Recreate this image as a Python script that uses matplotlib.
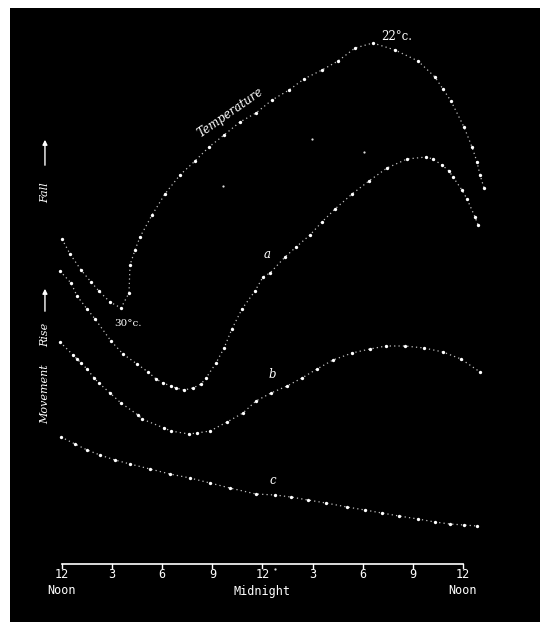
import matplotlib
matplotlib.use("Agg")
import matplotlib.pyplot as plt

# ---- data (x: hours after noon, y: arbitrary height units above the time axis) ----
temp_x = [0.0, 0.48, 1.14, 1.74, 2.21, 2.87, 3.53, 4.01, 4.07, 4.37, 4.67, 5.39, 6.16, 7.06,
          7.96, 8.80, 9.70, 10.65, 11.61, 12.57, 13.59, 14.48, 15.56, 16.52, 17.54, 18.61,
          19.93, 21.31, 22.32, 22.80, 23.28, 24.06, 24.54, 24.84, 25.02, 25.26]
temp_y = [325, 310, 294, 282, 273, 262, 256, 271, 299, 314, 327, 349, 370, 389,
          403, 417, 429, 442, 451, 464, 474, 485, 494, 503, 516, 521,
          514, 503, 487, 475, 463, 437, 417, 402, 389, 376]

a_x = [-0.12, 0.54, 0.90, 1.50, 1.98, 2.93, 3.65, 4.49, 5.15, 5.63, 6.04, 6.52, 6.82, 7.30,
       7.84, 8.32, 8.62, 9.22, 9.70, 10.17, 10.77, 11.55, 12.03, 12.45, 13.35, 14.01, 14.84,
       15.56, 16.34, 17.36, 18.37, 19.45, 20.65, 21.79, 22.20, 22.74, 23.16, 23.40, 23.94,
       24.24, 24.72, 24.90]
a_y = [293, 281, 268, 255, 245, 223, 210, 200, 192, 185, 181, 178, 176, 174,
       176, 180, 186, 201, 216, 235, 255, 273, 287, 291, 307, 317, 329,
       342, 355, 370, 383, 396, 405, 407, 405, 399, 393, 387, 374,
       365, 347, 339]

b_x = [-0.12, 0.66, 0.90, 1.14, 1.50, 1.92, 2.21, 2.87, 3.53, 4.55, 4.79, 6.10, 6.52, 7.60,
       8.08, 8.86, 9.88, 10.83, 11.61, 12.51, 13.47, 14.36, 15.26, 16.22, 17.36, 18.43,
       19.39, 20.53, 21.67, 22.80, 23.88, 25.02]
b_y = [222, 209, 205, 201, 195, 186, 181, 171, 161, 149, 145, 136, 133, 130,
       131, 133, 142, 151, 163, 171, 178, 186, 195, 204, 211, 215,
       218, 218, 216, 212, 205, 192]

c_x = [-0.06, 0.78, 1.50, 2.27, 3.17, 4.07, 5.27, 6.46, 7.66, 8.86, 10.05, 11.61, 12.75,
       13.71, 14.72, 15.80, 17.06, 18.13, 19.15, 20.17, 21.31, 22.32, 23.22, 24.06, 24.84]
c_y = [127, 120, 114, 109, 104, 100, 95, 90, 86, 81, 76, 70, 69,
       67, 64, 61, 57, 54, 51, 48, 45, 42, 40, 39, 38]

tick_hours = [0, 3, 6, 9, 12, 15, 18, 21, 24]
tick_labels = ["12", "3", "6", "9", "12", "3", "6", "9", "12"]
period_labels = [(0, "Noon"), (12, "Midnight"), (24, "Noon")]

# stray specks of the old print
speck_x = [9.64, 14.96, 18.07, 12.75]
speck_y = [378, 425, 412, -5]

# ---- figure ----
W, H = 550, 632
fig = plt.figure(figsize=(W / 100, H / 100), dpi=100, facecolor="white")
L, R, T, B = 10, 540, 8, 622
ax = fig.add_axes([L / W, (H - B) / H, (R - L) / W, (B - T) / H])
ax.set_facecolor("black")
pph = 401 / 24.0          # pixels per hour
x0, y0 = 62, 564          # pixel of noon / axis line
ax.set_xlim((L - x0) / pph, (R - x0) / pph)
ax.set_ylim(y0 - B, y0 - T)
ax.set_xticks([]); ax.set_yticks([])
for s in ax.spines.values():
    s.set_visible(False)

for xs, ys in [(temp_x, temp_y), (a_x, a_y), (b_x, b_y), (c_x, c_y)]:
    ax.plot(xs, ys, linestyle=(0, (1, 2.5)), color="white", lw=0.9, alpha=0.75)
    ax.plot(xs, ys, linestyle="none", marker="o", ms=2.4, mfc="white", mec="none")

ax.plot(speck_x, speck_y, linestyle="none", marker="o", ms=1.6, mfc="#dddddd", mec="none")

# time axis
ax.plot([0, 24], [0, 0], color="white", lw=1.2)
for h, lab in zip(tick_hours, tick_labels):
    ax.plot([h, h], [0, -3.5], color="white", lw=1.0)
    ax.text(h, -11, lab, color="white", ha="center", va="center",
            family="DejaVu Sans Mono", fontsize=8.5)
for h, lab in period_labels:
    ax.text(h, -27, lab, color="white", ha="center", va="center",
            family="DejaVu Sans Mono", fontsize=8.5)

# curve labels
serif = "DejaVu Serif"
ax.text(10.1, 451, "Temperature", color="white", rotation=35, ha="center", va="center",
        family=serif, style="italic", fontsize=8.5, rotation_mode="anchor")
ax.text(20.05, 527, "22°c.", color="white", ha="center", va="center",
        family=serif, fontsize=8.5)
ax.text(3.95, 240, "30°c.", color="white", ha="center", va="center",
        family=serif, fontsize=7.5)
ax.text(12.27, 309, "a", color="white", ha="center", va="center",
        family=serif, style="italic", fontsize=8.5)
ax.text(12.57, 189, "b", color="white", ha="center", va="center",
        family=serif, style="italic", fontsize=8.5)
ax.text(12.63, 83, "c", color="white", ha="center", va="center",
        family=serif, style="italic", fontsize=8.5)

# vertical labels
ylx = -1.02
ax.text(ylx, 371, "Fall", color="white", rotation=90, ha="center", va="center",
        family=serif, style="italic", fontsize=8)
ax.annotate("", xy=(ylx, 427), xytext=(ylx, 396),
            arrowprops=dict(arrowstyle="-|>", color="white", lw=1.0, mutation_scale=7))
ax.text(ylx, 229, "Rise", color="white", rotation=90, ha="center", va="center",
        family=serif, style="italic", fontsize=8)
ax.annotate("", xy=(ylx, 278), xytext=(ylx, 250),
            arrowprops=dict(arrowstyle="-|>", color="white", lw=1.0, mutation_scale=7))
ax.text(ylx, 170, "Movement", color="white", rotation=90, ha="center", va="center",
        family=serif, style="italic", fontsize=8)

fig.savefig("out.png", dpi=100, facecolor="white")
